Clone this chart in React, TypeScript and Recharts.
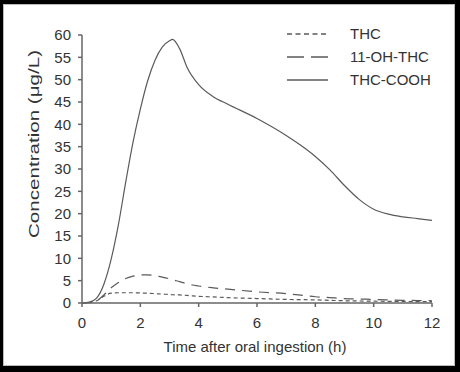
import React from "react";
import { LineChart, Line, XAxis, YAxis } from "recharts";

const TIME = [0, 0.25, 0.5, 0.75, 1, 1.25, 1.5, 1.75, 2, 2.25, 2.5, 2.75, 3, 3.1, 3.35, 3.6, 4, 4.5, 5, 6, 7, 7.5, 8, 8.5, 9, 9.5, 10, 10.5, 11, 11.5, 12];
const THC = [0, 0.1, 0.5, 1.5, 2.2, 2.3, 2.3, 2.3, 2.25, 2.2, 2.1, 2.0, 1.9, 1.85, 1.8, 1.7, 1.5, 1.35, 1.2, 1.0, 0.8, 0.75, 0.7, 0.6, 0.5, 0.45, 0.4, 0.38, 0.35, 0.32, 0.3];
const OH_THC = [0, 0.1, 0.5, 1.8, 3.4, 4.6, 5.5, 6.0, 6.3, 6.3, 6.1, 5.8, 5.4, 5.2, 4.8, 4.3, 3.8, 3.4, 3.1, 2.5, 2.1, 1.75, 1.4, 1.2, 1.0, 0.9, 0.8, 0.7, 0.6, 0.55, 0.5];
const THC_COOH = [0, 0.2, 1.1, 4.2, 9.8, 17.6, 27.1, 36, 43.4, 49.7, 54.3, 57.3, 58.7, 59, 56.9, 52.8, 48.9, 46.2, 44.5, 41.3, 37.5, 35.3, 32.8, 29.8, 26.3, 23.2, 21, 19.9, 19.3, 18.9, 18.5];

const X_TICKS = [0, 2, 4, 6, 8, 10, 12];
const Y_TICKS = [0, 5, 10, 15, 20, 25, 30, 35, 40, 45, 50, 55, 60];

const SERIES = [
  { key: "thc", name: "THC", dash: "4 3", legendDash: "5 3.5" },
  { key: "oh", name: "11-OH-THC", dash: "10 7", legendDash: "17 7" },
  { key: "cooh", name: "THC-COOH", dash: undefined, legendDash: undefined },
];

const data = TIME.map((t, i) => ({
  t,
  thc: THC[i],
  oh: OH_THC[i],
  cooh: THC_COOH[i],
}));

const FONT = '"Liberation Sans", Arial, sans-serif';
const LINE = "#5a5a5a";
const TEXT = "#333";

function LegendBox() {
  return (
    <div style={{ position: "absolute", left: 287, top: 22, fontFamily: FONT, fontSize: 15, color: TEXT }}>
      {SERIES.map((s) => (
        <div key={s.key} style={{ display: "flex", alignItems: "center", height: 23 }}>
          <svg width={41} height={6} style={{ marginRight: 22 }}>
            <line x1={0} y1={3} x2={41} y2={3} stroke={LINE} strokeWidth={1.3} strokeDasharray={s.legendDash} />
          </svg>
          <span>{s.name}</span>
        </div>
      ))}
    </div>
  );
}

export default function App() {
  return (
    <div style={{ position: "absolute", left: 0, top: 0, width: 460, height: 372, background: "#000" }}>
      <div
        style={{
          position: "absolute",
          left: 3,
          top: 4,
          width: 452,
          height: 362,
          background: "#fff",
          boxSizing: "border-box",
          border: "1px solid #bbb",
        }}
      />
      <div style={{ position: "absolute", left: 0, top: 0 }}>
        <LineChart width={460} height={372} data={data} margin={{ top: 35, right: 28, left: 32, bottom: 39 }}>
          <XAxis
            dataKey="t"
            type="number"
            domain={[0, 12]}
            ticks={X_TICKS}
            height={30}
            stroke="#666"
            strokeWidth={1.5}
            tickSize={4}
            tickMargin={10}
            tick={{ fontSize: 15, fill: TEXT, fontFamily: FONT }}
            label={{
              content: ({ viewBox }: any) => (
                <text
                  x={viewBox.x + viewBox.width / 2 - 2}
                  y={viewBox.y + 43}
                  textAnchor="middle"
                  dominantBaseline="central"
                  fontSize={15}
                  fill={TEXT}
                  fontFamily={FONT}
                >
                  Time after oral ingestion (h)
                </text>
              ),
            }}
          />
          <YAxis
            type="number"
            domain={[0, 60]}
            ticks={Y_TICKS}
            width={50}
            stroke="#666"
            strokeWidth={1.5}
            tickSize={4}
            tickMargin={7}
            interval={0}
            tick={{ fontSize: 15, fill: TEXT, fontFamily: FONT }}
            label={{
              content: ({ viewBox }: any) => {
                const cx = viewBox.x + 1;
                const cy = viewBox.y + viewBox.height / 2 - 25;
                return (
                  <text
                    x={cx}
                    y={cy}
                    transform={`rotate(-90 ${cx} ${cy})`}
                    textAnchor="middle"
                    dominantBaseline="central"
                    fontSize={15}
                    fill={TEXT}
                    fontFamily={FONT}
                    textLength={188}
                    lengthAdjust="spacingAndGlyphs"
                  >
                    Concentration (μg/L)
                  </text>
                );
              },
            }}
          />
          {SERIES.map((s) => (
            <Line
              key={s.key}
              dataKey={s.key}
              name={s.name}
              type="monotone"
              stroke={LINE}
              strokeWidth={1.2}
              strokeDasharray={s.dash}
              dot={false}
              activeDot={false}
              isAnimationActive={false}
            />
          ))}
        </LineChart>
      </div>
      <LegendBox />
    </div>
  );
}
